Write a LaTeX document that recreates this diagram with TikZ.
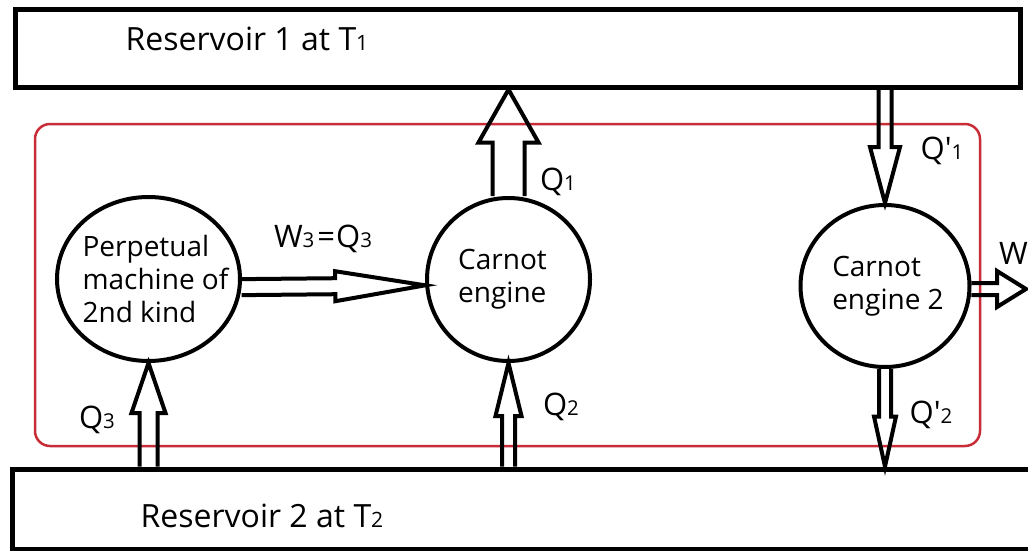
\documentclass[tikz,border=0pt]{standalone}
\usepackage{fontspec}
\newfontfamily\diagfont{Open Sans}
\usetikzlibrary{calc,shapes.geometric}
\definecolor{framered}{RGB}{200,45,55}
\newcommand{\idx}[1]{\scalebox{0.66}{#1}}
% #1 shaft half width, #2 head half width, #3 head length, #4 from, #5 to
\newcommand{\blockarrow}[5]{%
  \coordinate (ba) at ($(#5)!#3!(#4)$);
  \draw[hollow] ($(#4)!#1!90:(ba)$) -- ($(ba)!#1!-90:(#4)$) -- ($(ba)!#2!-90:(#4)$) -- (#5)
    -- ($(ba)!#2!90:(#4)$) -- ($(ba)!#1!90:(#4)$) -- ($(#4)!#1!-90:(ba)$);}
\begin{document}
\begin{tikzpicture}[x=1pt,y=-1pt,font=\diagfont,
  reservoir/.style={draw,line width=5pt,rectangle,inner sep=0pt},
  engine/.style={draw,line width=4pt,ellipse,inner sep=0pt},
  enginetext/.style={align=left,font=\diagfont\fontsize{28}{33}\selectfont},
  restext/.style={font=\diagfont\fontsize{32}{38}\selectfont},
  qlabel/.style={font=\diagfont\fontsize{31}{36}\selectfont,inner sep=0pt},
  hollow/.style={line width=4pt,line join=miter},
  frame/.style={draw=framered,line width=2.5pt,rounded corners=15pt}]
  \useasboundingbox (0,0) rectangle (1028,551);
  \clip (0,0) rectangle (1028,551);
  \fill[white] (0,0) rectangle (1028,551);
  \node[reservoir,minimum width=1005pt,minimum height=77.5pt] (r1) at (517.5,48.25) {};
  \node[restext] (r1text) at (247,39) {Reservoir 1 at T\idx{1}};
  \node[reservoir,minimum width=1040pt,minimum height=80pt] (r2) at (532,509) {};
  \node[restext] (r2text) at (262,516) {Reservoir 2 at T\idx{2}};
  \draw[frame] (35,124) rectangle (980,446);
  \node[engine,minimum width=183pt,minimum height=164pt] (pm) at (148.5,279) {};
  \node[enginetext] (pmtext) at ($(pm)+(7,0)$) {Perpetual\\machine of\\2nd kind};
  \node[engine,minimum width=163pt,minimum height=163pt] (ce) at (508.5,279.5) {};
  \node[enginetext] (cetext) at ($(ce)+(-6,0)$) {Carnot\\engine};
  \node[engine,minimum width=169pt,minimum height=162pt] (ce2) at (885,286) {};
  \node[enginetext] (ce2text) at ($(ce2)+(3,0)$) {Carnot\\engine 2};
  \coordinate (q1tip) at (ce.north |- r1.south);
  \coordinate (q1pfoot) at (ce2.north |- r1.south);
  \coordinate (q3foot) at (pm.south |- r2.north);
  \coordinate (q2foot) at (ce.south |- r2.north);
  \coordinate (q2ptip) at (ce2.south |- r2.north);
  \coordinate (wtip) at (1026,289);
  \blockarrow{16pt}{30pt}{53pt}{ce.north}{q1tip}
  \blockarrow{6.5pt}{15pt}{56pt}{q1pfoot}{ce2.north}
  \blockarrow{8pt}{15pt}{90pt}{pm.-5}{ce.184}
  \blockarrow{9pt}{17pt}{50pt}{q3foot}{pm.south}
  \blockarrow{6.5pt}{13pt}{53pt}{q2foot}{ce.south}
  \blockarrow{6pt}{11pt}{50pt}{ce2.south}{q2ptip}
  \blockarrow{6pt}{18pt}{29pt}{ce2.-2}{wtip}
  \node[qlabel] (lq1) at (558,182) {Q\idx{1}};
  \node[qlabel] (lq1p) at (942,151) {Q'\idx{1}};
  \node[qlabel] (lw3) at (323,239) {W\idx{3}\kern3pt=\kern1pt Q\idx{3}};
  \node[qlabel] (lq3) at (97,420) {Q\idx{3}};
  \node[qlabel] (lq2) at (561,407) {Q\idx{2}};
  \node[qlabel] (lq2p) at (931,415) {Q'\idx{2}};
  \node[qlabel,anchor=west] (lw) at (999,253) {W};
\end{tikzpicture}
\end{document}
